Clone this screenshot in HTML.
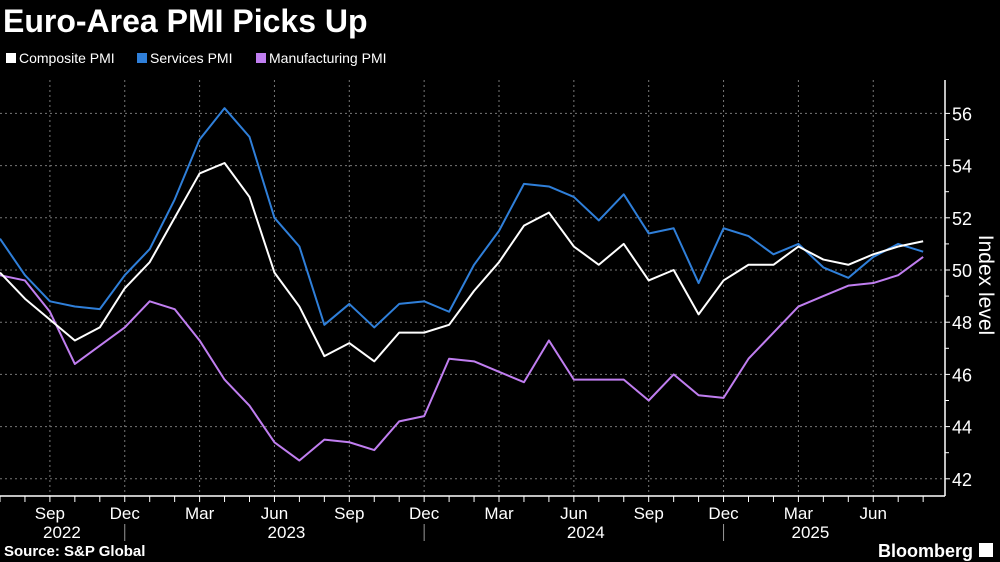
<!DOCTYPE html>
<html><head><meta charset="utf-8"><style>
body{margin:0;background:#000;width:1000px;height:562px;overflow:hidden;font-family:"Liberation Sans",sans-serif;color:#fff}
</style></head><body>
<svg width="1000" height="562" style="position:absolute;left:0;top:0">
<text x="3" y="32" font-size="32" font-weight="bold" fill="#fff">Euro-Area PMI Picks Up</text>
<g id="legend" font-size="14" fill="#fff">
 <g><rect x="6" y="53" width="10" height="10" fill="#fff"/><text x="19" y="63">Composite PMI</text></g>
 <g><rect x="137" y="53" width="10" height="10" fill="#2f7fd9"/><text x="150" y="63">Services PMI</text></g>
 <g><rect x="256" y="53" width="10" height="10" fill="#c07ef0"/><text x="269" y="63">Manufacturing PMI</text></g>
</g>
<g id="grid"></g><g id="axes"></g><g id="lines"></g>
<text transform="translate(979,285) rotate(90)" text-anchor="middle" font-size="21" fill="#fff">Index level</text>
<text x="4" y="556" font-size="15" font-weight="bold" fill="#fff">Source: S&amp;P Global</text>
<text x="973" y="557" font-size="18" font-weight="bold" text-anchor="end" fill="#fff">Bloomberg</text>
<rect x="979" y="543" width="14" height="14" fill="#fff"/>
</svg>
<script>
const months=["Jul","Aug","Sep","Oct","Nov","Dec","Jan","Feb","Mar","Apr","May","Jun"];
const composite=[49.9,48.9,48.1,47.3,47.8,49.3,50.3,52.0,53.7,54.1,52.8,49.9,48.6,46.7,47.2,46.5,47.6,47.6,47.9,49.2,50.3,51.7,52.2,50.9,50.2,51.0,49.6,50.0,48.3,49.6,50.2,50.2,50.9,50.4,50.2,50.6,50.9,51.1];
const services=[51.2,49.8,48.8,48.6,48.5,49.8,50.8,52.7,55.0,56.2,55.1,52.0,50.9,47.9,48.7,47.8,48.7,48.8,48.4,50.2,51.5,53.3,53.2,52.8,51.9,52.9,51.4,51.6,49.5,51.6,51.3,50.6,51.0,50.1,49.7,50.5,51.0,50.7];
const manufacturing=[49.8,49.6,48.4,46.4,47.1,47.8,48.8,48.5,47.3,45.8,44.8,43.4,42.7,43.5,43.4,43.1,44.2,44.4,46.6,46.5,46.1,45.7,47.3,45.8,45.8,45.8,45.0,46.0,45.2,45.1,46.6,47.6,48.6,49.0,49.4,49.5,49.8,50.5];
const yTicks=[42,44,46,48,50,52,54,56];
const monthLabels=["Sep","Dec","Mar","Jun"];
const years=[{label:"2022",i:2},{label:"2023",i:11},{label:"2024",i:23},{label:"2025",i:32}];
const NS="http://www.w3.org/2000/svg";
const X0=0,DX=24.95,AX=945,AY=496;
const x=i=>X0+i*DX;
const y=v=>270-(v-50)*26.1;
function mk(p,t,a){const e=document.createElementNS(NS,t);for(const k in a)e.setAttribute(k,a[k]);p.appendChild(e);return e;}
const grid=document.getElementById('grid'),axes=document.getElementById('axes'),lines=document.getElementById('lines');
yTicks.forEach(v=>{
 const l=mk(grid,'line',{x1:0,x2:AX,y1:y(v),y2:y(v),stroke:'#777','stroke-dasharray':'2,3','stroke-width':1});
 
 
 mk(axes,'line',{x1:AX,x2:AX+5,y1:y(v),y2:y(v),stroke:'#fff'});
 const t=mk(axes,'text',{x:AX+7,y:y(v)+7,'font-size':18,fill:'#fff'});t.textContent=v;
 
 
});
for(let v=43;v<56;v+=2)mk(axes,'line',{x1:AX,x2:AX+4,y1:y(v),y2:y(v),stroke:'#fff'});
for(let i=0;i<composite.length;i++){
 mk(axes,'line',{x1:x(i),x2:x(i),y1:AY,y2:AY+6,stroke:'#fff'});
 const m=months[i%12];
 if(monthLabels.includes(m)){
  const g=mk(grid,'line',{x1:x(i),x2:x(i),y1:80,y2:AY,stroke:'#777','stroke-dasharray':'2,3'});
  
  
  const t=mk(axes,'text',{x:x(i),y:AY+23,'font-size':17,fill:'#fff','text-anchor':'middle'});t.textContent=m;
  
  
  if(m==="Dec")mk(axes,'line',{x1:x(i),x2:x(i),y1:AY+28,y2:AY+45,stroke:'#999'});
 }
}
years.forEach(o=>{const t=mk(axes,'text',{x:x(o.i)+12,y:AY+42,'font-size':17,fill:'#fff','text-anchor':'middle'});t.textContent=o.label;
 
 });
mk(axes,'line',{x1:0,x2:AX,y1:AY,y2:AY,stroke:'#fff','stroke-width':1.5});
mk(axes,'line',{x1:AX,x2:AX,y1:80,y2:AY,stroke:'#fff','stroke-width':1.5});
[[manufacturing,'#c07ef0','manufacturing-line'],[services,'#2f7fd9','services-line'],[composite,'#ffffff','composite-line']].forEach(([d,c,n])=>{
 const p=mk(lines,'polyline',{points:d.map((v,i)=>x(i)+','+y(v)).join(' '),fill:'none',stroke:c,'stroke-width':2,'stroke-linejoin':'round'});
 
 
});
</script>
</body></html>
